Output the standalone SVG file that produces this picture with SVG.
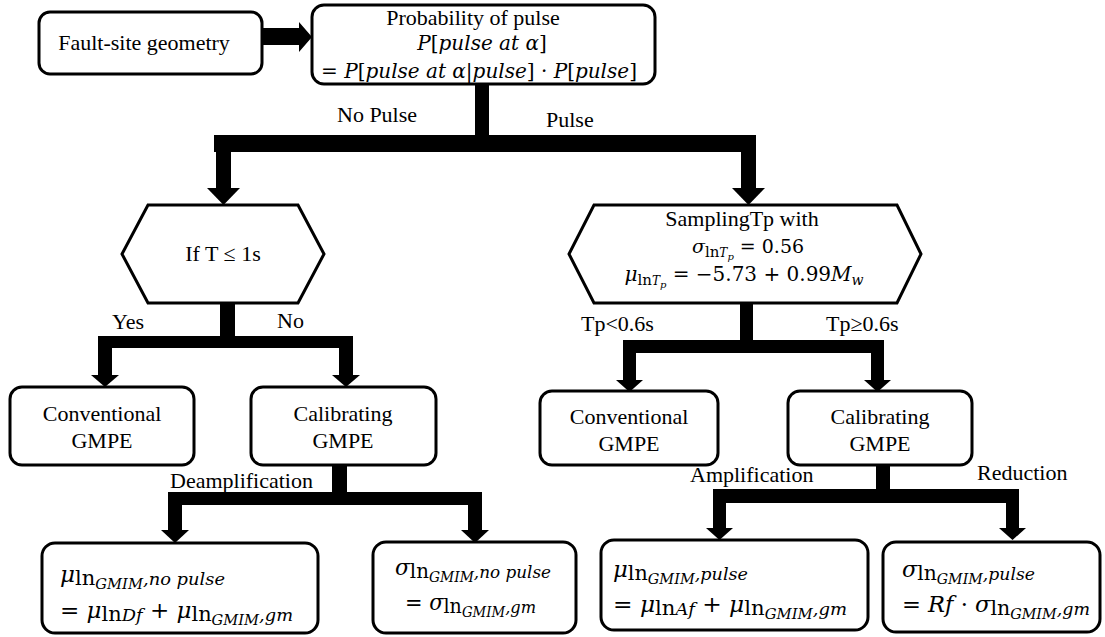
<svg xmlns="http://www.w3.org/2000/svg" width="1105" height="637" viewBox="0 0 1105 637">
<style>
.box{fill:#fff;stroke:#000;stroke-width:3}
.t{font-family:"Liberation Serif","Times New Roman",serif;font-size:22px;fill:#000}
.c{text-anchor:middle}
.m{font-family:"DejaVu Serif",serif;font-style:italic;fill:#000}
.u{font-style:normal}
.conn{fill:#000;stroke:none}
</style>
<rect width="1105" height="637" fill="#fff"/>
<g id="connectors" class="conn">
  <polygon points="262,28 299,28 299,22 312,37 299,52 299,45 262,45"/>
  <rect x="475" y="84" width="14" height="68"/>
  <rect x="214" y="135" width="542" height="17"/>
  <rect x="216" y="135" width="15" height="53"/>
  <polygon points="207,188 240,188 223.5,205"/>
  <rect x="741" y="135" width="15" height="53"/>
  <polygon points="732,188 765,188 748.5,205"/>
  <rect x="220" y="302" width="15" height="46"/>
  <rect x="98" y="336" width="255" height="12"/>
  <rect x="98" y="336" width="14" height="39"/>
  <polygon points="91,375 119,375 105,387"/>
  <rect x="339" y="336" width="14" height="39"/>
  <polygon points="332,375 360,375 346,387"/>
  <rect x="740" y="303" width="13" height="50"/>
  <rect x="623" y="340" width="261" height="13"/>
  <rect x="623" y="340" width="13" height="40"/>
  <polygon points="616,380 643,380 629.5,392"/>
  <rect x="871" y="340" width="13" height="40"/>
  <polygon points="864,380 891,380 877.5,392"/>
  <rect x="332" y="465" width="15" height="40"/>
  <rect x="168" y="492" width="314" height="13"/>
  <rect x="168" y="492" width="14" height="38"/>
  <polygon points="161,530 189,530 175,543"/>
  <rect x="468" y="492" width="14" height="38"/>
  <polygon points="461,530 489,530 475,543"/>
  <rect x="876" y="465" width="14" height="38"/>
  <rect x="713" y="489" width="306" height="14"/>
  <rect x="713" y="489" width="13" height="39"/>
  <polygon points="706,528 733,528 719.5,540"/>
  <rect x="1006" y="489" width="13" height="39"/>
  <polygon points="999,528 1026,528 1012.5,540"/>
  <text class="t" x="337" y="122">No Pulse</text>
  <text class="t" x="546" y="127">Pulse</text>
  <text class="t" x="112" y="329">Yes</text>
  <text class="t" x="277" y="328">No</text>
  <text class="t" x="581" y="331">Tp&lt;0.6s</text>
  <text class="t" x="826" y="331">Tp≥0.6s</text>
  <text class="t" x="170" y="488">Deamplification</text>
  <text class="t" x="690" y="482">Amplification</text>
  <text class="t" x="977" y="480">Reduction</text>
</g>
<g id="fault">
  <rect class="box" x="39" y="12" width="223" height="62" rx="11"/>
  <text class="t c" x="144" y="50">Fault-site geometry</text>
</g>
<g id="probability">
  <rect class="box" x="312" y="5" width="343" height="79" rx="12"/>
  <text class="t c" x="473" y="25">Probability of pulse</text>
  <text class="m c" x="482" y="50" font-size="20">P<tspan class="u">[</tspan>pulse at α<tspan class="u">]</tspan></text>
  <text class="m c" x="479" y="78" font-size="20"><tspan class="u">= </tspan>P<tspan class="u">[</tspan>pulse at α<tspan class="u">|</tspan>pulse<tspan class="u">] · </tspan>P<tspan class="u">[</tspan>pulse<tspan class="u">]</tspan></text>
</g>
<g id="if-t">
  <polygon class="box" points="148,205 298,205 324,254 298,303 148,303 122,254"/>
  <text class="t c" x="223" y="261">If T ≤ 1s</text>
</g>
<g id="sampling">
  <polygon class="box" points="594,205 897,205 921,254 897,303 594,303 569,254"/>
  <text class="t c" x="742" y="226">SamplingTp with</text>
  <text class="m c" x="748" y="253" font-size="19">σ<tspan class="u" font-size="15" dy="4">ln</tspan><tspan font-size="12">T</tspan><tspan font-size="10" dy="3">p</tspan><tspan class="u" dy="-7"> = 0.56</tspan></text>
  <text class="m c" x="744" y="281" font-size="20">μ<tspan class="u" font-size="15" dy="4">ln</tspan><tspan font-size="12">T</tspan><tspan font-size="10" dy="3">p</tspan><tspan class="u" dy="-7"> = −5.73 + 0.99</tspan>M<tspan font-size="14" dy="4">w</tspan></text>
</g>
<g id="conv-left">
  <rect class="box" x="10" y="387" width="184" height="78" rx="12"/>
  <text class="t c" x="102" y="421">Conventional</text>
  <text class="t c" x="102" y="448">GMPE</text>
</g>
<g id="calib-left">
  <rect class="box" x="251" y="387" width="185" height="78" rx="12"/>
  <text class="t c" x="343" y="421">Calibrating</text>
  <text class="t c" x="343" y="448">GMPE</text>
</g>
<g id="conv-right">
  <rect class="box" x="540" y="391" width="178" height="74" rx="12"/>
  <text class="t c" x="629" y="424">Conventional</text>
  <text class="t c" x="629" y="451">GMPE</text>
</g>
<g id="calib-right">
  <rect class="box" x="788" y="391" width="184" height="74" rx="12"/>
  <text class="t c" x="880" y="424">Calibrating</text>
  <text class="t c" x="880" y="451">GMPE</text>
</g>
<g id="mu-nopulse">
  <rect class="box" x="42" y="543" width="276" height="90" rx="13"/>
  <text class="m" x="60" y="582" font-size="22" textLength="165" lengthAdjust="spacingAndGlyphs">μ<tspan class="u" font-size="20" dy="3">ln</tspan><tspan font-size="14" dy="4">GMIM</tspan><tspan font-size="17" dy="-4">,no pulse</tspan></text>
  <text class="m" x="60" y="618" font-size="22" textLength="233" lengthAdjust="spacingAndGlyphs"><tspan class="u">= </tspan>μ<tspan class="u" font-size="20" dy="3">ln</tspan><tspan font-size="17">Df</tspan><tspan class="u" dy="-3"> + </tspan>μ<tspan class="u" font-size="20" dy="3">ln</tspan><tspan font-size="14" dy="4">GMIM</tspan><tspan font-size="17" dy="-4">,gm</tspan></text>
</g>
<g id="sigma-nopulse">
  <rect class="box" x="373" y="542" width="203" height="91" rx="13"/>
  <text class="m" x="395" y="575" font-size="22" textLength="156" lengthAdjust="spacingAndGlyphs">σ<tspan class="u" font-size="20" dy="3">ln</tspan><tspan font-size="14" dy="4">GMIM</tspan><tspan font-size="17" dy="-4">,no pulse</tspan></text>
  <text class="m" x="405" y="610" font-size="22" textLength="131" lengthAdjust="spacingAndGlyphs"><tspan class="u">= </tspan>σ<tspan class="u" font-size="20" dy="3">ln</tspan><tspan font-size="14" dy="4">GMIM</tspan><tspan font-size="17" dy="-4">,gm</tspan></text>
</g>
<g id="mu-pulse">
  <rect class="box" x="601" y="540" width="267" height="90" rx="13"/>
  <text class="m" x="613" y="577" font-size="22" textLength="135" lengthAdjust="spacingAndGlyphs">μ<tspan class="u" font-size="20" dy="3">ln</tspan><tspan font-size="14" dy="4">GMIM</tspan><tspan font-size="17" dy="-4">,pulse</tspan></text>
  <text class="m" x="613" y="612" font-size="22" textLength="234" lengthAdjust="spacingAndGlyphs"><tspan class="u">= </tspan>μ<tspan class="u" font-size="20" dy="3">ln</tspan><tspan font-size="17">Af</tspan><tspan class="u" dy="-3"> + </tspan>μ<tspan class="u" font-size="20" dy="3">ln</tspan><tspan font-size="14" dy="4">GMIM</tspan><tspan font-size="17" dy="-4">,gm</tspan></text>
</g>
<g id="sigma-pulse">
  <rect class="box" x="883" y="542" width="217" height="90" rx="13"/>
  <text class="m" x="902" y="577" font-size="22" textLength="133" lengthAdjust="spacingAndGlyphs">σ<tspan class="u" font-size="20" dy="3">ln</tspan><tspan font-size="14" dy="4">GMIM</tspan><tspan font-size="17" dy="-4">,pulse</tspan></text>
  <text class="m" x="902" y="612" font-size="22" textLength="188" lengthAdjust="spacingAndGlyphs"><tspan class="u">= </tspan>Rf<tspan class="u"> · </tspan>σ<tspan class="u" font-size="20" dy="3">ln</tspan><tspan font-size="14" dy="4">GMIM</tspan><tspan font-size="17" dy="-4">,gm</tspan></text>
</g>
</svg>
